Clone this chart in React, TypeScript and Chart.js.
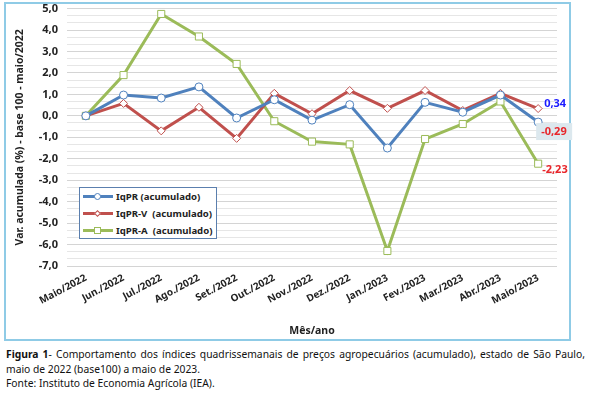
import React, { useEffect, useRef } from "react";
import { Chart, registerables } from "chart.js";

Chart.register(...registerables);

const categories = [
  "Maio/2022", "Jun./2022", "Jul./2022", "Ago./2022", "Set./2022", "Out./2022",
  "Nov./2022", "Dez./2022", "Jan./2023", "Fev./2023", "Mar./2023", "Abr./2023", "Maio/2023",
];
const iqpr = [0, 0.97, 0.83, 1.35, -0.1, 0.75, -0.2, 0.52, -1.5, 0.63, 0.17, 0.97, -0.29];
const iqprV = [0, 0.58, -0.7, 0.4, -1.05, 1.05, 0.1, 1.18, 0.35, 1.18, 0.25, 1.05, 0.34];
const iqprA = [0, 1.9, 4.75, 3.7, 2.42, -0.25, -1.2, -1.33, -6.3, -1.08, -0.38, 0.67, -2.23];
const yMin = -7;
const yMax = 5;
const lastLabels = ["-0,29", "0,34", "-2,23"];

const BLUE = "#4f81bd";
const RED = "#c0504d";
const GREEN = "#9bbb59";
const FONT = "'Noto Sans', 'DejaVu Sans', sans-serif";

const labelPlugin = {
  id: "lastLabels",
  afterDatasetsDraw(chart: any) {
    const ctx = chart.ctx;
    ctx.save();
    ctx.font = `bold 11px ${FONT}`;
    ctx.textBaseline = "middle";
    ctx.textAlign = "left";
    const pB = chart.getDatasetMeta(0).data[12];
    const pR = chart.getDatasetMeta(1).data[12];
    const pG = chart.getDatasetMeta(2).data[12];
    if (pB) {
      ctx.fillStyle = "#dce8ee";
      ctx.fillRect(pB.x - 2, pB.y + 1, 36, 17);
      ctx.fillStyle = "#e8262b";
      ctx.fillText(lastLabels[0], pB.x + 3, pB.y + 10);
    }
    if (pR) {
      ctx.fillStyle = "#1a1aff";
      ctx.fillText(lastLabels[1], pR.x + 6, pR.y - 5);
    }
    if (pG) {
      ctx.fillStyle = "#e8262b";
      ctx.fillText(lastLabels[2], pG.x + 4, pG.y + 6);
    }
    ctx.restore();
  },
};

export default function App() {
  const ref = useRef<HTMLCanvasElement | null>(null);
  useEffect(() => {
    if (!ref.current) return;
    const chart = new Chart(ref.current, {
      type: "line",
      data: {
        labels: categories,
        datasets: [
          {
            label: "IqPR (acumulado)",
            data: iqpr,
            borderColor: BLUE,
            backgroundColor: "#ffffff",
            borderWidth: 3,
            pointStyle: "circle",
            pointRadius: 4,
            pointBorderWidth: 1,
            pointBorderColor: BLUE,
            pointBackgroundColor: "#ffffff",
            order: 1,
          },
          {
            label: "IqPR-V  (acumulado)",
            data: iqprV,
            borderColor: RED,
            backgroundColor: "#ffffff",
            borderWidth: 3,
            pointStyle: "rectRot",
            pointRadius: 4,
            pointBorderWidth: 1,
            pointBorderColor: RED,
            pointBackgroundColor: "#ffffff",
            order: 2,
          },
          {
            label: "IqPR-A  (acumulado)",
            data: iqprA,
            borderColor: GREEN,
            backgroundColor: "#ffffff",
            borderWidth: 3,
            pointStyle: "rect",
            pointRadius: 5,
            pointBorderWidth: 1,
            pointBorderColor: GREEN,
            pointBackgroundColor: "#ffffff",
            order: 3,
          },
        ],
      },
      options: {
        animation: false,
        responsive: false,
        maintainAspectRatio: false,
        layout: { padding: { top: 1, right: 34, left: 0, bottom: 8 } },
        plugins: {
          legend: { display: false },
          tooltip: { enabled: false },
        },
        scales: {
          x: {
            offset: true,
            grid: { display: false, drawTicks: false },
            border: { display: false },
            ticks: {
              minRotation: 28,
              maxRotation: 28,
              padding: 6,
              color: "#222",
              font: { family: FONT, size: 10, weight: "bold" },
            },
            title: {
              display: true,
              text: "Mês/ano",
              color: "#222",
              font: { family: FONT, size: 10.5, weight: "bold" },
              padding: { top: 0, bottom: 0 },
            },
            afterFit: (s: any) => {
              s.height = 71;
            },
          },
          y: {
            min: yMin,
            max: yMax,
            afterBuildTicks: (s: any) => {
              const t = [];
              for (let i = yMin * 3; i <= yMax * 3; i++) t.push({ value: i / 3 });
              s.ticks = t;
            },
            grid: {
              drawTicks: false,
              color: (c: any) => {
                const v = c.tick ? c.tick.value : 0;
                return Math.abs(v - Math.round(v)) < 1e-6 ? "#d4d4d4" : "#e6e6e6";
              },
              lineWidth: 1,
            },
            border: { display: false },
            ticks: {
              autoSkip: false,
              padding: 9,
              color: "#222",
              font: { family: FONT, size: 11, weight: "bold" },
              callback: (v: any) => {
                const n = Number(v);
                if (Math.abs(n - Math.round(n)) < 1e-6) {
                  return Math.round(n).toFixed(1).replace(".", ",");
                }
                return "";
              },
            },
            title: {
              display: true,
              text: "Var. acumulada (%) - base 100 - maio/2022",
              color: "#222",
              font: { family: FONT, size: 10.5, weight: "bold" },
              padding: { top: 14, bottom: 0 },
            },
            afterFit: (s: any) => {
              s.width = 67;
            },
          },
        },
      },
      plugins: [labelPlugin],
    });
    return () => chart.destroy();
  }, []);

  const legendItem = (color: string, marker: React.ReactNode, text: string) => (
    <div style={{ display: "flex", alignItems: "center", height: 17, whiteSpace: "pre" }}>
      <div style={{ position: "relative", width: 30, height: 9, marginRight: 3, flex: "none" }}>
        <div style={{ position: "absolute", left: 0, right: 0, top: 3, height: 3, background: color }} />
        {marker}
      </div>
      <span>{text}</span>
    </div>
  );

  return (
    <div style={{ position: "fixed", left: 0, top: 0, width: 591, height: 398, background: "#fff", overflow: "hidden" }}>
      <div
        style={{
          position: "absolute",
          left: 4,
          top: 2,
          width: 567,
          height: 339,
          border: "2px solid #8fcbe6",
          boxSizing: "border-box",
        }}
      />
      <canvas ref={ref} width={591} height={352} style={{ position: "absolute", left: 0, top: -7, width: 591, height: 352 }} />
      <div
        style={{
          position: "absolute",
          left: 79,
          top: 187,
          width: 138,
          height: 52,
          border: "1px solid #5b7fae",
          boxSizing: "border-box",
          background: "#fff",
          padding: "0 0 0 3px",
          font: `bold 9.6px ${FONT}`,
          color: "#222",
          lineHeight: "17px",
        }}
      >
        {legendItem(
          BLUE,
          <div style={{ position: "absolute", left: 11, top: 1, width: 7, height: 7, boxSizing: "border-box", borderRadius: 4, border: `1px solid ${BLUE}`, background: "#fff" }} />,
          "IqPR (acumulado)"
        )}
        {legendItem(
          RED,
          <div style={{ position: "absolute", left: 12, top: 2, width: 5, height: 5, boxSizing: "border-box", transform: "rotate(45deg)", border: `1px solid ${RED}`, background: "#fff" }} />,
          "IqPR-V  (acumulado)"
        )}
        {legendItem(
          GREEN,
          <div style={{ position: "absolute", left: 11, top: 1, width: 7, height: 7, boxSizing: "border-box", border: `1px solid ${GREEN}`, background: "#fff" }} />,
          "IqPR-A  (acumulado)"
        )}
      </div>
      <div
        style={{
          position: "absolute",
          left: 6,
          top: 347,
          width: 579,
          font: `10.3px ${FONT}`,
          color: "#111",
          lineHeight: "14.5px",
          whiteSpace: "pre",
        }}
      >
        <div style={{ textAlign: "justify", textAlignLast: "justify", whiteSpace: "normal" }}>
          <b>Figura 1</b>- Comportamento dos índices quadrissemanais de preços agropecuários (acumulado), estado de São Paulo,
        </div>
        <div>maio de 2022 (base100) a maio de 2023.</div>
        <div>Fonte: Instituto de Economia Agrícola (IEA).</div>
      </div>
    </div>
  );
}
